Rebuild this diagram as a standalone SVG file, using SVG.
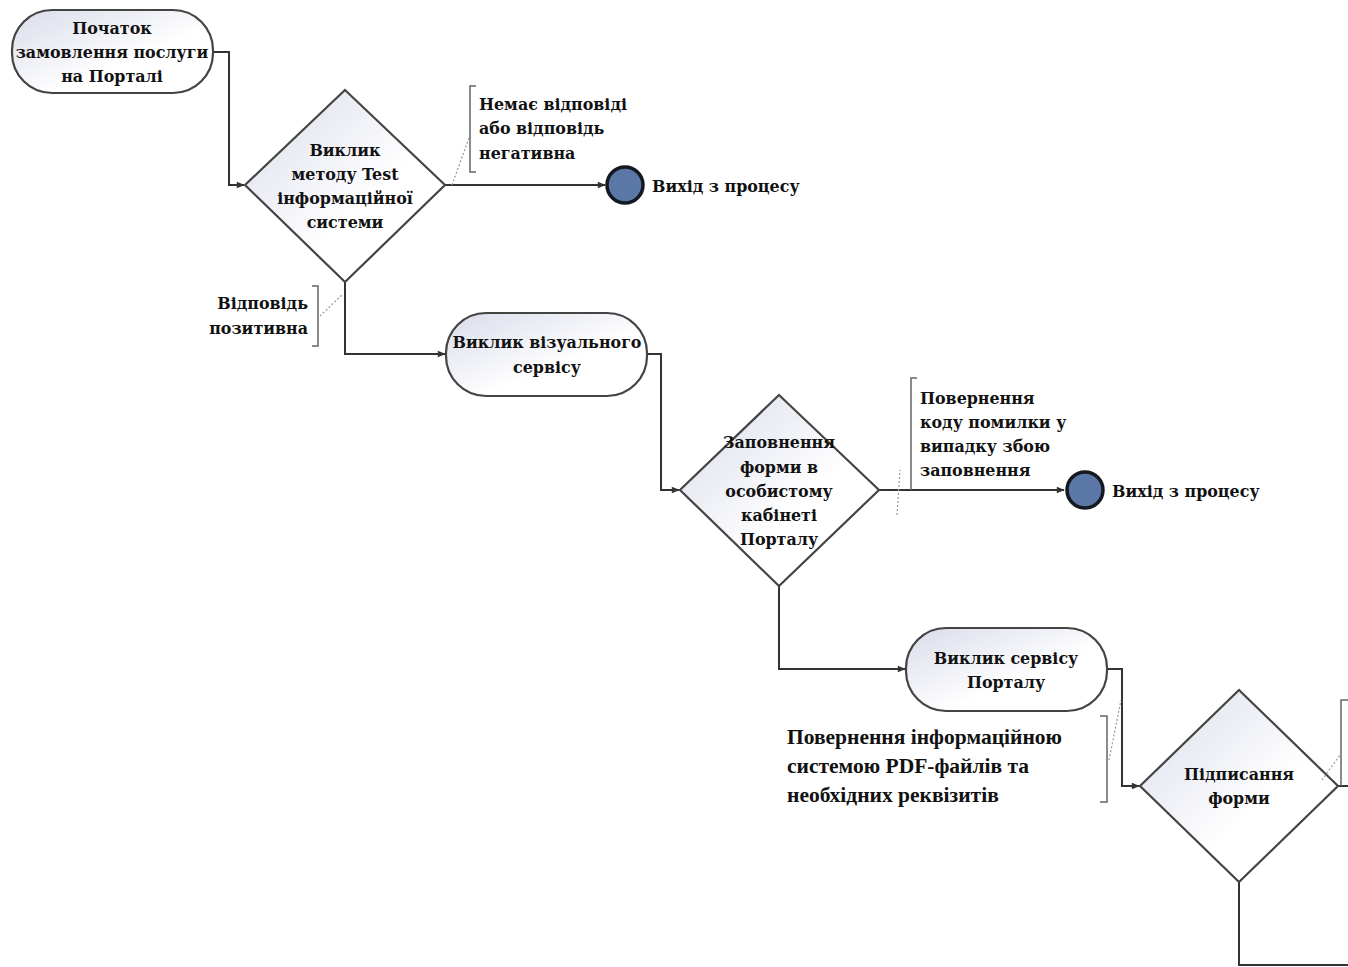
<svg xmlns="http://www.w3.org/2000/svg" width="1348" height="967" viewBox="0 0 1348 967">
<defs>
<linearGradient id="g" x1="0" y1="0" x2="1" y2="1">
<stop offset="0" stop-color="#d9dcea"/>
<stop offset="0.6" stop-color="#ffffff"/>
</linearGradient>
<marker id="arr" viewBox="0 0 10 10" refX="9" refY="5" markerWidth="10" markerHeight="8" orient="auto" markerUnits="userSpaceOnUse">
<path d="M0,1 L10,5 L0,9 z" fill="#333"/>
</marker>
</defs>
<style>
.shape{fill:url(#g);stroke:#444;stroke-width:2.2}
.t{font-family:"DejaVu Serif","Liberation Serif",serif;font-weight:bold;font-size:15.9px;fill:#111;text-anchor:middle}
.l{font-family:"DejaVu Serif","Liberation Serif",serif;font-weight:bold;font-size:15.9px;fill:#111}
.big{font-family:"Liberation Serif","DejaVu Serif",serif;font-weight:bold;font-size:21.5px;fill:#111}
.c{fill:none;stroke:#333;stroke-width:2}
.b{fill:none;stroke:#666;stroke-width:1.5}
.d{fill:none;stroke:#999;stroke-width:1.2;stroke-dasharray:2 2}
.end{fill:#5a77a5;stroke:#141820;stroke-width:3.5}
</style>
<rect width="1348" height="967" fill="#ffffff"/>
<g id="connectors">
<path class="c" d="M213,52 H229 V185 H244" marker-end="url(#arr)"/>
<path class="c" d="M445,185 H605" marker-end="url(#arr)"/>
<path class="c" d="M345,282 V354 H445" marker-end="url(#arr)"/>
<path class="c" d="M647,354 H661 V490 H679" marker-end="url(#arr)"/>
<path class="c" d="M879,490 H1064" marker-end="url(#arr)"/>
<path class="c" d="M779,586 V669 H905" marker-end="url(#arr)"/>
<path class="c" d="M1107,669 H1122 V786 H1139" marker-end="url(#arr)"/>
<path class="c" d="M1338,786 H1348"/>
<path class="c" d="M1239,882 V965 H1348"/>
</g>
<g id="start">
<rect class="shape" x="12" y="10" width="201" height="83" rx="40" ry="40"/>
<text class="t" x="112" y="34">Початок</text>
<text class="t" x="112" y="58">замовлення послуги</text>
<text class="t" x="112" y="82">на Порталі</text>
</g>
<g id="test">
<polygon class="shape" points="345,90 445,185 345,282 245,185"/>
<text class="t" x="345" y="156">Виклик</text>
<text class="t" x="345" y="180">методу Test</text>
<text class="t" x="345" y="204">інформаційної</text>
<text class="t" x="345" y="228">системи</text>
</g>
<g id="exit1">
<circle class="end" cx="625" cy="185" r="18"/>
<text class="l" x="652" y="192">Вихід з процесу</text>
</g>
<g id="note1">
<path class="b" d="M476,86 H470 V172 H476"/>
<path class="d" d="M452,185 L470,135"/>
<text class="l" x="479" y="110">Немає відповіді</text>
<text class="l" x="479" y="134">або відповідь</text>
<text class="l" x="479" y="159">негативна</text>
</g>
<g id="note2">
<path class="b" d="M312,286 H318 V346 H312"/>
<path class="d" d="M320,316 L343,294"/>
<text class="l" x="308" y="309" text-anchor="end">Відповідь</text>
<text class="l" x="308" y="334" text-anchor="end">позитивна</text>
</g>
<g id="visual">
<rect class="shape" x="446" y="313" width="201" height="83" rx="40" ry="40"/>
<text class="t" x="547" y="348">Виклик візуального</text>
<text class="t" x="547" y="373">сервісу</text>
</g>
<g id="fill">
<polygon class="shape" points="779,395 879,490 779,586 680,490"/>
<text class="t" x="779" y="448">Заповнення</text>
<text class="t" x="779" y="473">форми в</text>
<text class="t" x="779" y="497">особистому</text>
<text class="t" x="779" y="521">кабінеті</text>
<text class="t" x="779" y="545">Порталу</text>
</g>
<g id="exit2">
<circle class="end" cx="1085" cy="490" r="18"/>
<text class="l" x="1112" y="497">Вихід з процесу</text>
</g>
<g id="note3">
<path class="b" d="M917,378 H911 V490"/>
<path class="d" d="M897,515 L900,470"/>
<text class="l" x="920" y="404">Повернення</text>
<text class="l" x="920" y="428">коду помилки у</text>
<text class="l" x="920" y="452">випадку збою</text>
<text class="l" x="920" y="476">заповнення</text>
</g>
<g id="portal">
<rect class="shape" x="906" y="628" width="201" height="83" rx="40" ry="40"/>
<text class="t" x="1006" y="664">Виклик сервісу</text>
<text class="t" x="1006" y="688">Порталу</text>
</g>
<g id="note4">
<path class="b" d="M1100,716 H1107 V802 H1100"/>
<path class="d" d="M1109,760 L1121,700"/>
<text class="big" x="787" y="744">Повернення інформаційною</text>
<text class="big" x="787" y="773">системою PDF-файлів та</text>
<text class="big" x="787" y="802">необхідних реквізитів</text>
</g>
<g id="sign">
<polygon class="shape" points="1239,690 1338,786 1239,882 1140,786"/>
<text class="t" x="1239" y="780">Підписання</text>
<text class="t" x="1239" y="804">форми</text>
</g>
<g id="note5">
<path class="b" d="M1348,700 H1341 V786"/>
<path class="d" d="M1322,780 L1340,755"/>
</g>
</svg>
